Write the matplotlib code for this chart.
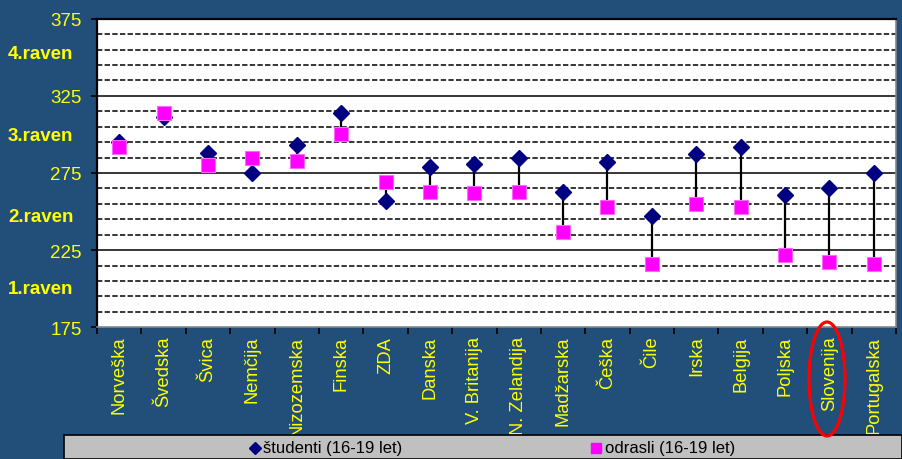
import matplotlib
matplotlib.use('Agg')
import matplotlib.pyplot as plt
from matplotlib.lines import Line2D
from matplotlib.patches import Rectangle, Ellipse

# ── Data ───────────────────────────────────────────────────
countries = ['Norveška', 'Švedska', 'Švica', 'Nemčija', 'Nizozemska', 'Finska',
             'ZDA', 'Danska', 'V. Britanija', 'N. Zelandija', 'Madžarska',
             'Češka', 'Čile', 'Irska', 'Belgija', 'Poljska', 'Slovenija',
             'Portugalska']
studenti = [295, 311, 288, 275, 293, 314, 257, 279, 281, 285, 263,
            282, 247, 287, 292, 261, 265, 275]
odrasli = [292, 314, 280, 285, 283, 300, 269, 263, 262, 263, 237,
           253, 216, 255, 253, 222, 217, 216]
y_ticks = [175, 225, 275, 325, 375]
level_labels = ['1.raven', '2.raven', '3.raven', '4.raven']
level_pos = [200, 246.5, 299.3, 352.6]

BG = '#214F79'
YEL = '#FFFF00'

plt.rcParams['font.family'] = ['Liberation Sans', 'DejaVu Sans']

fig = plt.figure(figsize=(9.02, 4.6), dpi=100, facecolor=BG)
ax = fig.add_axes([0.1075, 0.2863, 0.8859, 0.6709])
ax.set_facecolor('white')

x = list(range(len(countries)))

# grid: solid at tick values, dashed every 10
for v in range(185, 375, 10):
    if v in y_ticks:
        continue
    ax.axhline(v, color='black', lw=1.1, ls=(0, (3.5, 1.5)), zorder=1)
for v in [225, 275, 325]:
    ax.axhline(v, color='black', lw=1.1, zorder=1)

# high-low lines
for xi, s, o in zip(x, studenti, odrasli):
    ax.plot([xi, xi], [min(s, o), max(s, o)], color='black', lw=1.6, zorder=2)

ax.plot(x, studenti, ls='none', marker='D', ms=8.5, color='#000080',
        mec='#000080', zorder=3)
ax.plot(x, odrasli, ls='none', marker='s', ms=10, color='#FF00FF',
        mec='#FF66FF', mew=0.8, zorder=4)

ax.set_xlim(-0.5, len(countries) - 0.5)
ax.set_ylim(175, 375)
ax.set_yticks(y_ticks)
ax.set_yticklabels([str(v) for v in y_ticks], color=YEL, fontsize=13.5)
ax.tick_params(axis='y', length=4, width=1.2, color='black', pad=7)

ax.set_xticks(x)
ax.set_xticklabels(countries, rotation=90, color=YEL, fontsize=13.2, va='top')
ax.tick_params(axis='x', length=0, pad=6)
ax.set_xticks([i - 0.5 for i in range(len(countries) + 1)], minor=True)
ax.tick_params(axis='x', which='minor', length=5, width=1.2, color='black')

for side in ['left', 'top']:
    ax.spines[side].set_color('black')
    ax.spines[side].set_linewidth(1.6)
ax.spines['right'].set_color('#888888')
ax.spines['bottom'].set_color('#888888')
ax.spines['right'].set_linewidth(1.2)
ax.spines['bottom'].set_linewidth(1.2)

for lab, pos in zip(level_labels, level_pos):
    ax.text(-0.1114, pos, lab, transform=ax.get_yaxis_transform(),
            color=YEL, fontsize=13.5, fontweight='bold', ha='left', va='center')

# ── Legend box ─────────────────────────────────────────────
W, H = 902, 460
fig.patches.append(Rectangle((64 / W, 0), 1 - 64 / W, (H - 436) / H,
                             transform=fig.transFigure, facecolor='#C0C0C0',
                             edgecolor='black', lw=1.2, zorder=5))
fig.lines.append(Line2D([255 / W], [1 - 449 / H], transform=fig.transFigure,
                        marker='D', ms=6.5, color='#000080', ls='none', zorder=6))
fig.text(263 / W, 1 - 449 / H, 'študenti (16-19 let)', fontsize=12,
         color='black', va='center', ha='left', zorder=6)
fig.lines.append(Line2D([596 / W], [1 - 449 / H], transform=fig.transFigure,
                        marker='s', ms=7, color='#FF00FF', ls='none', zorder=6))
fig.text(605 / W, 1 - 449 / H, 'odrasli (16-19 let)', fontsize=12,
         color='black', va='center', ha='left', zorder=6)

# ── Highlight Slovenija ────────────────────────────────────
fig.patches.append(Ellipse((827 / W, 1 - 380 / H), 36 / W, 114 / H,
                           transform=fig.transFigure, fill=False,
                           edgecolor='#FF0000', lw=2.3, zorder=7))

plt.savefig('out.png', dpi=100, facecolor=BG)
